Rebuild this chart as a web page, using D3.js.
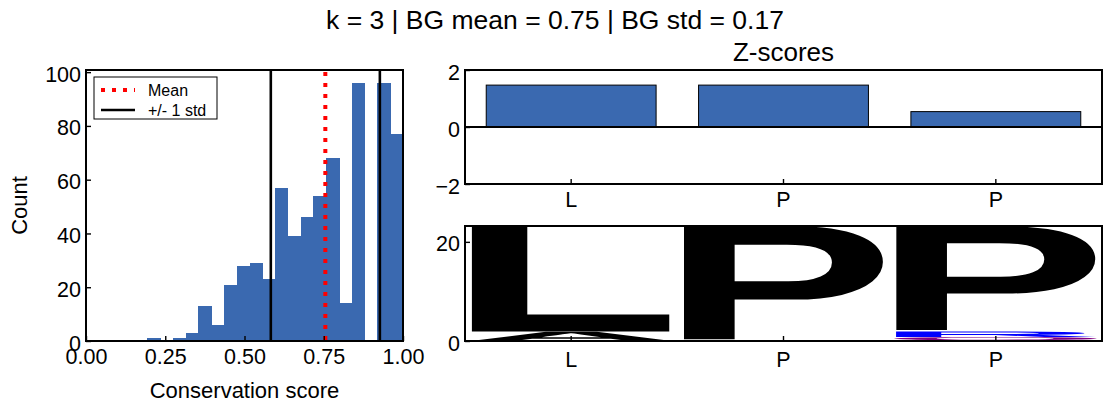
<!DOCTYPE html>
<html>
<head>
<meta charset="utf-8">
<script src="https://cdn.jsdelivr.net/npm/d3@7"></script>
<style>
  html, body { margin: 0; padding: 0; background: #ffffff; }
  svg { display: block; }
  text { font-family: "Liberation Sans", Arial, sans-serif; }
</style>
</head>
<body>
<svg id="chart" width="1111" height="411"></svg>
<script>
// ---------------- data ----------------
const suptitleText = "k = 3 | BG mean = 0.75 | BG std = 0.17";
const histCounts = [1, 0, 1, 3, 13, 6, 21, 28, 29, 23, 57, 39, 46, 54, 68, 14, 96, 0, 96, 77];
const histRange = [0.193, 1.0];
const histXTicks = [0, 0.25, 0.5, 0.75, 1.0];
const histYTicks = [0, 20, 40, 60, 80, 100];
const bgMean = 0.755;
const bgStd = 0.172;
const legendLabels = ["Mean", "+/- 1 std"];

const zCategories = ["L", "P", "P"];
const zScores = [1.47, 1.47, 0.54];
const zYTicks = [-2, 0, 2];

const logoCategories = ["L", "P", "P"];
// stacks from bottom to top: [letter, height]
const logoStacks = [
  [["A", 1.9], ["L", 21.3]],
  [["P", 23.2]],
  [["Q", 0.8], ["R", 1.1], ["P", 21.3]]
];
const logoYTicks = [0, 20];
const logoColorScheme = { A: "#000000", L: "#000000", P: "#000000", Q: "#800080", R: "#0000ff" };

// ---------------- layout ----------------
const svg = d3.select("#chart");
const FONT = '"Liberation Sans", Arial, sans-serif';
const BLUE = "#3a69b0";
const TICKFS = "21.5px";
const hist = { x0: 86, x1: 403, y0: 70, y1: 341 };
const zp = { x0: 465, x1: 1102, y0: 70, y1: 184 };
const lg = { x0: 465, x1: 1102, y0: 226, y1: 341 };

svg.append("rect").attr("width", 1111).attr("height", 411).attr("fill", "#fff");

svg.append("text").attr("x", 555).attr("y", 29).attr("text-anchor", "middle")
  .style("font-size", "26.5px").style("fill", "#000").text(suptitleText);

function styleAxis(g, isLeft) {
  g.select(".domain").remove();
  g.selectAll(".tick line").attr("stroke", "#000").attr("stroke-width", 1.4);
  g.selectAll(".tick text").style("font-size", TICKFS).style("font-family", FONT).style("fill", "#000");
  if (isLeft) g.selectAll(".tick text").attr("dy", "0.42em");
}
function spine(p) {
  svg.append("rect").attr("x", p.x0).attr("y", p.y0).attr("width", p.x1 - p.x0).attr("height", p.y1 - p.y0)
    .attr("fill", "none").attr("stroke", "#000").attr("stroke-width", 2);
}
function clip(id, p) {
  svg.append("clipPath").attr("id", id).append("rect")
    .attr("x", p.x0).attr("y", p.y0).attr("width", p.x1 - p.x0).attr("height", p.y1 - p.y0);
}

// ---------------- histogram ----------------
const hx = d3.scaleLinear().domain([0, 1]).range([hist.x0, hist.x1]);
const hy = d3.scaleLinear().domain([0, 100.8]).range([hist.y1, hist.y0]);
const binW = (histRange[1] - histRange[0]) / histCounts.length;
const bins = histCounts.map((c, i) => ({ lo: histRange[0] + i * binW, hi: histRange[0] + (i + 1) * binW, c }));
clip("clipHist", hist);
const hg = svg.append("g").attr("clip-path", "url(#clipHist)");
hg.selectAll("rect.bar").data(bins).join("rect").attr("class", "bar")
  .attr("x", d => hx(d.lo)).attr("width", d => hx(d.hi) - hx(d.lo) + 0.6)
  .attr("y", d => hy(d.c)).attr("height", d => hy(0) - hy(d.c))
  .attr("fill", BLUE).attr("shape-rendering", "crispEdges");
hg.selectAll("line.std").data([bgMean - bgStd, bgMean + bgStd]).join("line").attr("class", "std")
  .attr("x1", d => hx(d)).attr("x2", d => hx(d)).attr("y1", hist.y0).attr("y2", hist.y1)
  .attr("stroke", "#000").attr("stroke-width", 2.6);
hg.append("line").attr("x1", hx(bgMean)).attr("x2", hx(bgMean)).attr("y1", hist.y0 + 2).attr("y2", hist.y1)
  .attr("stroke", "#ff0000").attr("stroke-width", 4).attr("stroke-dasharray", "4,7");

const hxAxis = svg.append("g").attr("transform", `translate(0,${hist.y1})`)
  .call(d3.axisBottom(hx).tickValues(histXTicks).tickFormat(d3.format(".2f")).tickSizeInner(-5).tickSizeOuter(0).tickPadding(8));
styleAxis(hxAxis, false);
const hyAxis = svg.append("g").attr("transform", `translate(${hist.x0},0)`)
  .call(d3.axisLeft(hy).tickValues(histYTicks).tickFormat(d3.format("d")).tickSizeInner(-5).tickSizeOuter(0).tickPadding(5));
styleAxis(hyAxis, true);
spine(hist);

svg.append("text").attr("transform", `translate(27,${(hist.y0 + hist.y1) / 2}) rotate(-90)`)
  .attr("text-anchor", "middle").style("font-size", "22px").style("fill", "#000").text("Count");
svg.append("text").attr("x", (hist.x0 + hist.x1) / 2).attr("y", 398).attr("text-anchor", "middle")
  .style("font-size", "22px").style("fill", "#000").text("Conservation score");

// legend
const leg = svg.append("g").attr("transform", "translate(94,77)");
leg.append("rect").attr("width", 123).attr("height", 42).attr("fill", "#fff").attr("stroke", "#000").attr("stroke-width", 1);
const legItems = [
  { label: legendLabels[0], color: "#ff0000", width: 4, dash: "4,7" },
  { label: legendLabels[1], color: "#000", width: 2.6, dash: null }
];
legItems.forEach((it, i) => {
  const y = 13 + i * 20;
  leg.append("line").attr("x1", 7).attr("x2", 41).attr("y1", y).attr("y2", y)
    .attr("stroke", it.color).attr("stroke-width", it.width).attr("stroke-dasharray", it.dash);
  leg.append("text").attr("x", 54).attr("y", y + 6).style("font-size", "16px").style("fill", "#000").text(it.label);
});

// ---------------- z-scores ----------------
const idx = zCategories.map((_, i) => i);
const zx = d3.scaleBand().domain(idx).range([zp.x0, zp.x1]).paddingInner(0.2).paddingOuter(0.1);
const zy = d3.scaleLinear().domain([-2, 2]).range([zp.y1, zp.y0]);
svg.append("g").selectAll("rect").data(zScores).join("rect")
  .attr("x", (d, i) => zx(i)).attr("width", zx.bandwidth())
  .attr("y", d => zy(Math.max(0, d))).attr("height", d => Math.abs(zy(d) - zy(0)))
  .attr("fill", BLUE).attr("stroke", "#000").attr("stroke-width", 1);
svg.append("line").attr("x1", zp.x0).attr("x2", zp.x1).attr("y1", zy(0)).attr("y2", zy(0))
  .attr("stroke", "#000").attr("stroke-width", 2);
const zxAxis = svg.append("g").attr("transform", `translate(0,${zp.y1})`)
  .call(d3.axisBottom(zx).tickFormat(i => zCategories[i]).tickSizeInner(-5).tickSizeOuter(0).tickPadding(8));
styleAxis(zxAxis, false);
const zyAxis = svg.append("g").attr("transform", `translate(${zp.x0},0)`)
  .call(d3.axisLeft(zy).tickValues(zYTicks).tickFormat(d3.format("d")).tickSizeInner(-5).tickSizeOuter(0).tickPadding(5));
styleAxis(zyAxis, true);
spine(zp);
svg.append("text").attr("x", (zp.x0 + zp.x1) / 2).attr("y", 61).attr("text-anchor", "middle")
  .style("font-size", "26px").style("fill", "#000").text("Z-scores");

// ---------------- logo ----------------
const lx = d3.scaleBand().domain(idx).range([lg.x0, lg.x1]).paddingInner(0.04).paddingOuter(0.02);
const ly = d3.scaleLinear().domain([0, 23.2]).range([lg.y1, lg.y0]);
clip("clipLogo", lg);
const lgG = svg.append("g").attr("clip-path", "url(#clipLogo)");
const cv = document.createElement("canvas").getContext("2d");
const REF = 100;
cv.font = `bold ${REF}px "Liberation Sans"`;
logoStacks.forEach((stack, i) => {
  let base = 0;
  stack.forEach(([ch, h]) => {
    const m = cv.measureText(ch);
    const inkL = m.actualBoundingBoxLeft, inkR = m.actualBoundingBoxRight;
    const asc = m.actualBoundingBoxAscent, desc = m.actualBoundingBoxDescent;
    const bx0 = lx(i), bw = lx.bandwidth();
    const yTop = ly(base + h), yBot = ly(base);
    const sx = bw / (inkL + inkR), sy = (yBot - yTop) / (asc + desc);
    lgG.append("text")
      .attr("transform", `translate(${bx0 + inkL * sx},${yTop + asc * sy}) scale(${sx},${sy})`)
      .style("font-size", REF + "px").style("font-weight", "bold").style("font-family", '"Liberation Sans"')
      .style("fill", logoColorScheme[ch]).text(ch);
    base += h;
  });
});
const lxAxis = svg.append("g").attr("transform", `translate(0,${lg.y1})`)
  .call(d3.axisBottom(lx).tickFormat(i => logoCategories[i]).tickSizeInner(-5).tickSizeOuter(0).tickPadding(11));
styleAxis(lxAxis, false);
const lyAxis = svg.append("g").attr("transform", `translate(${lg.x0},0)`)
  .call(d3.axisLeft(ly).tickValues(logoYTicks).tickFormat(d3.format("d")).tickSizeInner(-5).tickSizeOuter(0).tickPadding(5));
styleAxis(lyAxis, true);
spine(lg);
</script>
</body>
</html>
